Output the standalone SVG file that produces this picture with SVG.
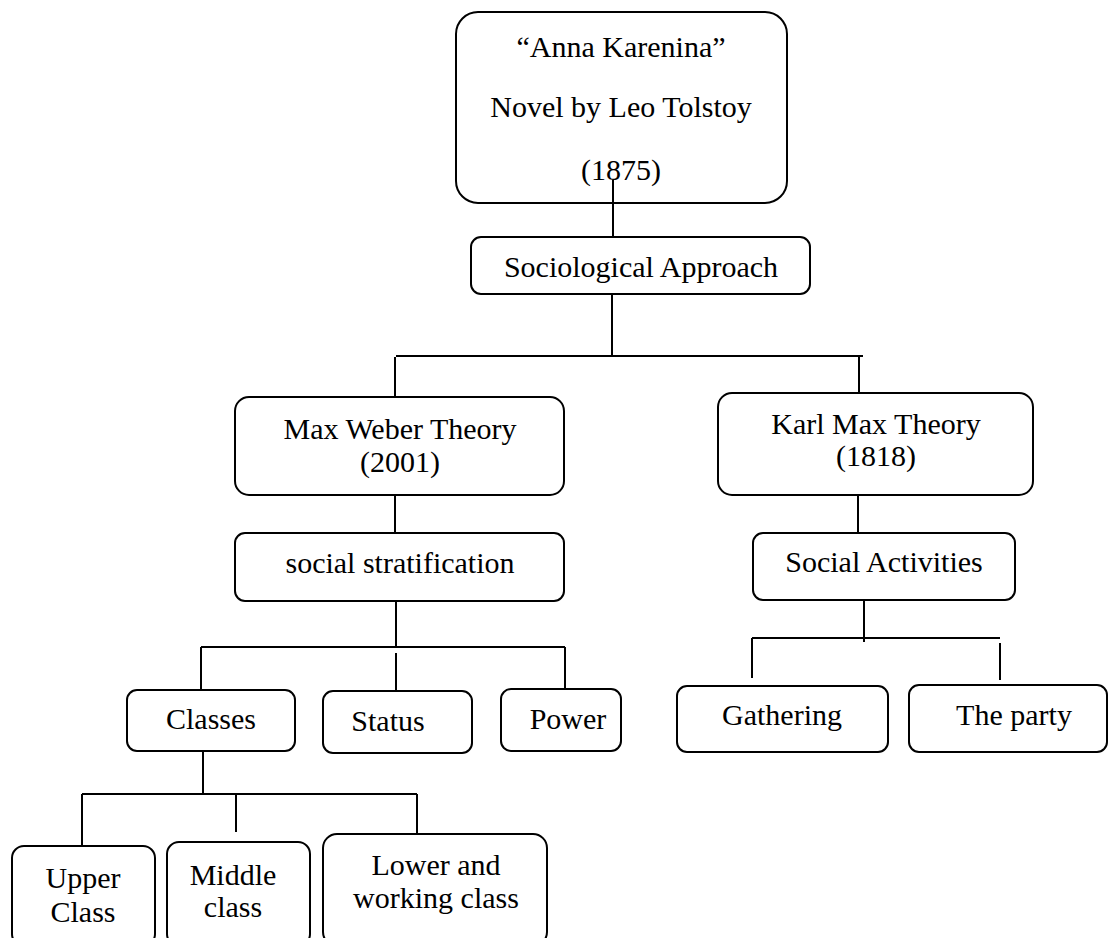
<svg xmlns="http://www.w3.org/2000/svg" width="1109" height="938" viewBox="0 0 1109 938">
<style>
.box{fill:#fff;stroke:#000;stroke-width:2}
.t{font-family:"Liberation Serif","Times New Roman",serif;font-size:30px;fill:#000;text-anchor:middle}
.c line{stroke:#000;stroke-width:2}
</style>
<rect width="1109" height="938" fill="#fff"/>
<g id="n-anna"><rect class="box" x="456" y="12" width="331" height="191" rx="22"/>
<text class="t" x="621" y="57">“Anna Karenina”</text>
<text class="t" x="621" y="117">Novel by Leo Tolstoy</text>
<text class="t" x="621" y="180">(1875)</text></g>
<g class="c" id="connectors">
<line x1="613" y1="180" x2="613" y2="237"/>
<line x1="612" y1="295" x2="612" y2="356"/>
<line x1="396" y1="356" x2="863" y2="356"/>
<line x1="395" y1="357" x2="395" y2="397"/>
<line x1="859" y1="356" x2="859" y2="393"/>
<line x1="395" y1="495" x2="395" y2="533"/>
<line x1="858" y1="495" x2="858" y2="533"/>
<line x1="396" y1="601" x2="396" y2="647"/>
<line x1="201" y1="647" x2="565" y2="647"/>
<line x1="201" y1="647" x2="201" y2="689"/>
<line x1="396" y1="653" x2="396" y2="691"/>
<line x1="565" y1="647" x2="565" y2="688"/>
<line x1="203" y1="748" x2="203" y2="794"/>
<line x1="82" y1="794" x2="417" y2="794"/>
<line x1="82" y1="794" x2="82" y2="846"/>
<line x1="236" y1="794" x2="236" y2="832"/>
<line x1="417" y1="794" x2="417" y2="834"/>
<line x1="864" y1="594" x2="864" y2="642"/>
<line x1="752" y1="638" x2="1000" y2="638"/>
<line x1="752" y1="638" x2="752" y2="678"/>
<line x1="1000" y1="643" x2="1000" y2="680"/>
</g>
<g id="n-socio"><rect class="box" x="471" y="237" width="339" height="57" rx="10"/>
<text class="t" x="641" y="277">Sociological Approach</text></g>
<g id="n-weber"><rect class="box" x="235" y="397" width="329" height="98" rx="14"/>
<text class="t" x="400" y="439">Max Weber Theory</text>
<text class="t" x="400" y="472">(2001)</text></g>
<g id="n-marx"><rect class="box" x="718" y="393" width="315" height="102" rx="14"/>
<text class="t" x="876" y="434">Karl Max Theory</text>
<text class="t" x="876" y="466">(1818)</text></g>
<g id="n-strat"><rect class="box" x="235" y="533" width="329" height="68" rx="10"/>
<text class="t" x="400" y="573">social stratification</text></g>
<g id="n-activities"><rect class="box" x="753" y="533" width="262" height="67" rx="10"/>
<text class="t" x="884" y="572">Social Activities</text></g>
<g id="n-classes"><rect class="box" x="127" y="690" width="168" height="61" rx="10"/>
<text class="t" x="211" y="729">Classes</text></g>
<g id="n-status"><rect class="box" x="323" y="691" width="149" height="62" rx="10"/>
<text class="t" x="388" y="731">Status</text></g>
<g id="n-power"><rect class="box" x="501" y="689" width="120" height="62" rx="10"/>
<text class="t" x="568" y="729">Power</text></g>
<g id="n-gathering"><rect class="box" x="677" y="686" width="211" height="66" rx="10"/>
<text class="t" x="782" y="725">Gathering</text></g>
<g id="n-party"><rect class="box" x="909" y="685" width="198" height="67" rx="10"/>
<text class="t" x="1014" y="725">The party</text></g>
<g id="n-upper"><rect class="box" x="12" y="846" width="143" height="100" rx="12"/>
<text class="t" x="83" y="888">Upper</text>
<text class="t" x="83" y="922">Class</text></g>
<g id="n-middle"><rect class="box" x="167" y="842" width="143" height="104" rx="12"/>
<text class="t" x="233" y="885">Middle</text>
<text class="t" x="233" y="917">class</text></g>
<g id="n-lower"><rect class="box" x="323" y="834" width="224" height="112" rx="14"/>
<text class="t" x="436" y="875">Lower and</text>
<text class="t" x="436" y="908">working class</text></g>
</svg>
